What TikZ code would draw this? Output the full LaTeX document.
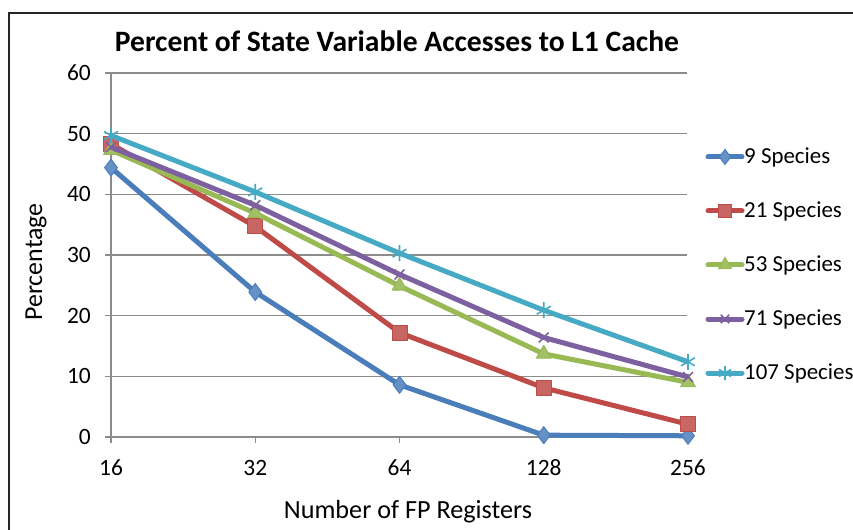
\documentclass[tikz,border=0pt]{standalone}
\usepackage{fontspec}
\setmainfont{Carlito}
\usetikzlibrary{plotmarks}
\definecolor{sblue}{HTML}{4A7EBB}
\definecolor{sred}{HTML}{BE4B48}
\definecolor{sgreen}{HTML}{98B954}
\definecolor{spurple}{HTML}{7D60A0}
\definecolor{scyan}{HTML}{46AAC5}
\definecolor{gridc}{HTML}{8C8C8C}
\tikzset{
  gridline/.style={draw=gridc, line width=1.4bp},
  ticklab/.style={font=\fontsize{23.5}{26}\selectfont, inner sep=0pt},
  series/.style={line width=5bp, line join=round},
  legtext/.style={font=\fontsize{23}{26}\selectfont, anchor=west, inner sep=0pt},
  mkblue/.style={mark=diamond*, mark options={fill=sblue!85!white, draw=sblue, line width=1bp}},
  mkred/.style={mark=square*, mark options={fill=sred!85!white, draw=sred, line width=1bp}},
  mkgreen/.style={mark=triangle*, mark options={fill=sgreen!90!white, draw=sgreen, line width=1bp}},
  mkpurple/.style={mark=x, mark options={draw=spurple, line width=1.6bp}},
  mkcyan/.style={mark=asterisk, mark options={draw=scyan, line width=1.6bp}},
}
\begin{document}
\begin{tikzpicture}[x=1bp,y=-1bp]
\useasboundingbox (0,0) rectangle (853,530);
\fill[white] (0,0) rectangle (853,530);
% frame
\draw[line width=2.2bp, black!85] (9,545) -- (9,13) -- (870,13);
% title
\node[font=\bfseries\fontsize{29.7}{33}\selectfont, inner sep=0pt] (title) at (397,41) {Percent of State Variable Accesses to L1 Cache};
% grid lines and y labels
\foreach \v in {0,10,...,60}{
  \pgfmathsetmacro{\yy}{437-6.0667*\v}
  \draw[gridline] (105,\yy) -- (687,\yy);
  \node[ticklab, anchor=east] (yl\v) at (91,\yy) {\v};
}
\draw[gridline] (111,73) -- (111,443);
% x ticks and labels
\foreach \lab [count=\i from 0] in {16,32,64,128,256}{
  \pgfmathsetmacro{\xx}{111+144.25*\i}
  \draw[gridline] (\xx,437) -- (\xx,443);
  \node[ticklab] (xl\lab) at (\xx,468) {\lab};
}
% axis titles
\node[font=\fontsize{26}{30}\selectfont, rotate=90, inner sep=0pt] (ytitle) at (36,262) {Percentage};
\node[font=\fontsize{26.3}{30}\selectfont, inner sep=0pt] (xtitle) at (408,512) {Number of FP Registers};
% data: x = 111 + 144.25*i, y = 437 - 6.0667*v
\draw[series, sblue, mkblue, mark size=8.5bp]
  plot coordinates {(111,{437-6.0667*44.4}) (255.25,{437-6.0667*23.9}) (399.5,{437-6.0667*8.6}) (543.75,{437-6.0667*0.3}) (688,{437-6.0667*0.2})};
\draw[series, sred, mkred, mark size=7.5bp]
  plot coordinates {(111,{437-6.0667*48.3}) (255.25,{437-6.0667*34.7}) (399.5,{437-6.0667*17.2}) (543.75,{437-6.0667*8.1}) (688,{437-6.0667*2.1})};
\draw[series, sgreen, mkgreen, mark size=8.5bp]
  plot coordinates {(111,{437-6.0667*47.3}) (255.25,{437-6.0667*36.9}) (399.5,{437-6.0667*24.9}) (543.75,{437-6.0667*13.7}) (688,{437-6.0667*9.0})};
\draw[series, spurple, mkpurple, mark size=7bp]
  plot coordinates {(111,{437-6.0667*47.8}) (255.25,{437-6.0667*38.2}) (399.5,{437-6.0667*26.8}) (543.75,{437-6.0667*16.4}) (688,{437-6.0667*9.9})};
\draw[series, scyan, mkcyan, mark size=8bp]
  plot coordinates {(111,{437-6.0667*49.7}) (255.25,{437-6.0667*40.4}) (399.5,{437-6.0667*30.3}) (543.75,{437-6.0667*20.9}) (688,{437-6.0667*12.4})};
% legend
\foreach \nm/\col/\mk/\ms/\yy in {9 Species/sblue/mkblue/7.5/157, 21 Species/sred/mkred/6.5/211, 53 Species/sgreen/mkgreen/7.5/265, 71 Species/spurple/mkpurple/6/319, 107 Species/scyan/mkcyan/7/373}{
  \coordinate (la\yy) at (708,\yy);
  \coordinate (lb\yy) at (742,\yy);
  \draw[series, \col, line cap=round] (la\yy) -- (lb\yy);
  \draw[\col, \mk, mark size=\ms bp] plot coordinates {(725,\yy)};
  \node[legtext] (lt\yy) at (744,\yy) {\nm};
}
\end{tikzpicture}
\end{document}
